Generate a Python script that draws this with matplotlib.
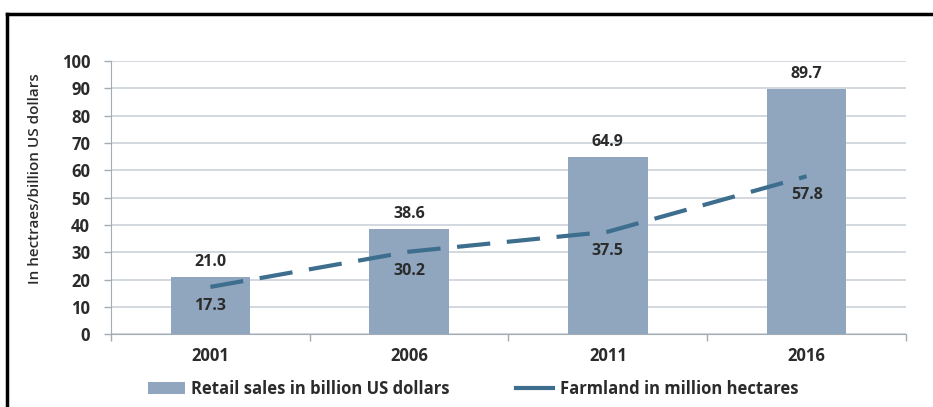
import matplotlib
matplotlib.use("Agg")
import matplotlib.pyplot as plt
import numpy as np
from matplotlib.lines import Line2D
from matplotlib.patches import Patch

years = ["2001", "2006", "2011", "2016"]
retail_sales = [21.0, 38.6, 64.9, 89.7]
farmland = [17.3, 30.2, 37.5, 57.8]
y_ticks = [0, 10, 20, 30, 40, 50, 60, 70, 80, 90, 100]
y_tick_labels = ["0", "10", "20", "30", "40", "50", "60", "70", "80", "90", "100"]

bar_color = "#8FA6BE"
line_color = "#3E6E8E"
text_color = "#2B2B2B"
grid_color = "#CCD2DA"
axis_color = "#A3ABB4"

plt.rcParams["font.family"] = ["Open Sans", "DejaVu Sans"]

fig = plt.figure(figsize=(9.33, 4.07), dpi=100)
ax = fig.add_axes([0.119, 0.179, 0.852, 0.671])

x = np.arange(len(years))
ax.bar(x, retail_sales, width=0.4, color=bar_color, zorder=2)
ax.plot(x, farmland, color=line_color, linewidth=3, dashes=(8, 4), zorder=3)

for xi, v in zip(x, retail_sales):
    ax.annotate(f"{v:.1f}", (xi, v), xytext=(0, 5), textcoords="offset points",
                ha="center", va="bottom", fontsize=11.5, fontweight="bold",
                color=text_color, zorder=4)
for xi, v in zip(x, farmland):
    ax.annotate(f"{v:.1f}", (xi, v), xytext=(0, -8), textcoords="offset points",
                ha="center", va="top", fontsize=11.5, fontweight="bold",
                color=text_color, zorder=4)

ax.set_xlim(-0.5, len(years) - 0.5)
ax.set_ylim(0, 100)
ax.set_yticks(y_ticks)
ax.set_yticklabels(y_tick_labels, fontsize=12, fontweight="bold", color=text_color)
ax.set_xticks(x)
ax.set_xticklabels(years, fontsize=12, fontweight="bold", color=text_color)
ax.set_xticks(np.arange(len(years) + 1) - 0.5, minor=True)

ax.tick_params(axis="y", length=5, width=1, color=axis_color, pad=10)
ax.tick_params(axis="x", which="major", length=0, pad=9)
ax.tick_params(axis="x", which="minor", length=5, width=1, color=axis_color, direction="out")

ax.yaxis.grid(True, color=grid_color, linewidth=1.2, zorder=0)
ax.set_axisbelow(True)
for side in ["top", "right"]:
    ax.spines[side].set_visible(False)
ax.spines["left"].set_color(axis_color)
ax.spines["bottom"].set_color(axis_color)

fig.text(35 / 933, 1 - 179 / 407, "In hectraes/billion US dollars", rotation=90,
         ha="center", va="center", fontsize=11, fontweight="semibold", color=text_color)

handles = [Patch(facecolor=bar_color, edgecolor="none"),
           Line2D([0], [0], color=line_color, linewidth=3)]
fig.legend(handles, ["Retail sales in billion US dollars", "Farmland in million hectares"],
           loc="center", bbox_to_anchor=(0.507, 1 - 389 / 407), ncol=2, frameon=False,
           handlelength=2.2, columnspacing=4.0, handletextpad=0.4,
           prop={"weight": "bold", "size": 12})
for t in fig.legends[0].get_texts():
    t.set_color(text_color)

# black frame (left and top edges visible)
fig.add_artist(Line2D([7 / 933, 7 / 933], [0, 1 - 14 / 407], color="black",
                      linewidth=2.5, transform=fig.transFigure))
fig.add_artist(Line2D([7 / 933, 1], [1 - 14 / 407, 1 - 14 / 407], color="black",
                      linewidth=2.5, transform=fig.transFigure))

fig.savefig("out.png", dpi=100)
